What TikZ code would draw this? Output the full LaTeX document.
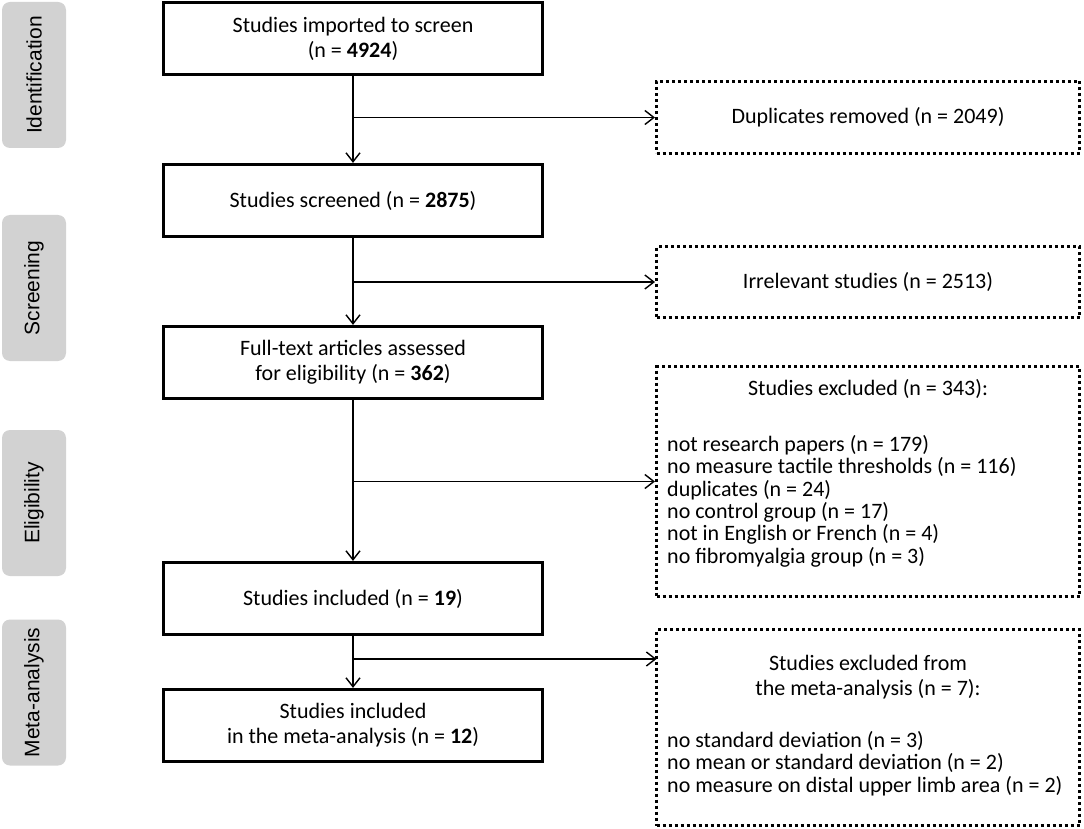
\documentclass[tikz,border=0pt]{standalone}
\usepackage{fontspec}
\setmainfont{Carlito}
\newfontfamily\stagefont{Liberation Sans}
\usetikzlibrary{arrows.meta}
\definecolor{stagegray}{RGB}{210,210,210}
\begin{document}
\begin{tikzpicture}[x=1pt,y=-1pt,
        font=\fontsize{22}{25}\selectfont,
        stage/.style={fill=stagegray,rounded corners=8pt,rotate=90,minimum width=146pt,
            minimum height=64pt,inner sep=0pt,font=\stagefont\fontsize{21}{24}\selectfont},
        mainbox/.style={draw,line width=3.2pt,minimum width=379pt,minimum height=72pt,
            inner sep=0pt,align=center},
        exbox/.style={draw,line width=3pt,dash pattern=on 3pt off 3pt,minimum width=423pt,
            inner sep=0pt},
        listtext/.style={inner sep=0pt,align=left,font=\fontsize{22}{22.4}\selectfont},
        arr/.style={line width=1.4pt,-{Straight Barb[length=9pt,width=14pt]}}]
        \useasboundingbox (0,0) rectangle (1084,829);

        % stages on the left
        \node[stage] (ident) at (34,75) {Identification};
        \node[stage] (screen) at (34,288) {Screening};
        \node[stage] (elig) at (34,503) {Eligibility};
        \node[stage] (meta) at (34,692.5) {Meta-analysis};

        % main column
        \node[mainbox] (imported) at (353,38.5) {Studies imported to screen\\(n = \textbf{4924})};
        \node[mainbox] (screened) at (353,200.5) {Studies screened (n = \textbf{2875})};
        \node[mainbox] (fulltext) at (353,362.5) {Full-text articles assessed\\for eligibility (n = \textbf{362})};
        \node[mainbox] (included) at (353,598.5) {Studies included (n = \textbf{19})};
        \node[mainbox] (metaincl) at (353,725.5) {Studies included\\in the meta-analysis (n = \textbf{12})};

        % excluded boxes
        \node[exbox,minimum height=72pt] (dupl) at (868,117.5) {Duplicates removed (n = 2049)};
        \node[exbox,minimum height=71pt] (irrel) at (868,282) {Irrelevant studies (n = 2513)};
        \node[exbox,minimum height=230pt] (excl) at (868,481.5) {};
        \node[inner sep=0pt] (exclhead) at (868,389) {Studies excluded (n = 343):};
        \node[listtext,anchor=north west] (excllist) at (667,435) {not research papers (n = 179)\\
            no measure tactile thresholds (n = 116)\\duplicates (n = 24)\\no control group (n = 17)\\
            not in English or French (n = 4)\\no fibromyalgia group (n = 3)};
        \node[exbox,minimum height=196pt] (metaexcl) at (868,727.5) {};
        \node[inner sep=0pt,align=center] (metahead) at (868,677.5) {Studies excluded from\\the meta-analysis (n = 7):};
        \node[listtext,anchor=north west] (metalist) at (667,731) {no standard deviation (n = 3)\\
            no mean or standard deviation (n = 2)\\no measure on distal upper limb area (n = 2)};
        \coordinate (metain) at (656.5,659);

        % arrows
        \draw[arr] (imported) -- (screened);
        \draw[arr] (imported.south |- dupl.west) -- (dupl.west);
        \draw[arr] (screened) -- (fulltext);
        \draw[arr] (screened.south |- irrel.west) -- (irrel.west);
        \draw[arr] (fulltext) -- (included);
        \draw[arr] (fulltext.south |- excl.west) -- (excl.west);
        \draw[arr] (included) -- (metaincl);
        \draw[arr] (included.south |- metain) -- (metain);
    \end{tikzpicture}
\end{document}
